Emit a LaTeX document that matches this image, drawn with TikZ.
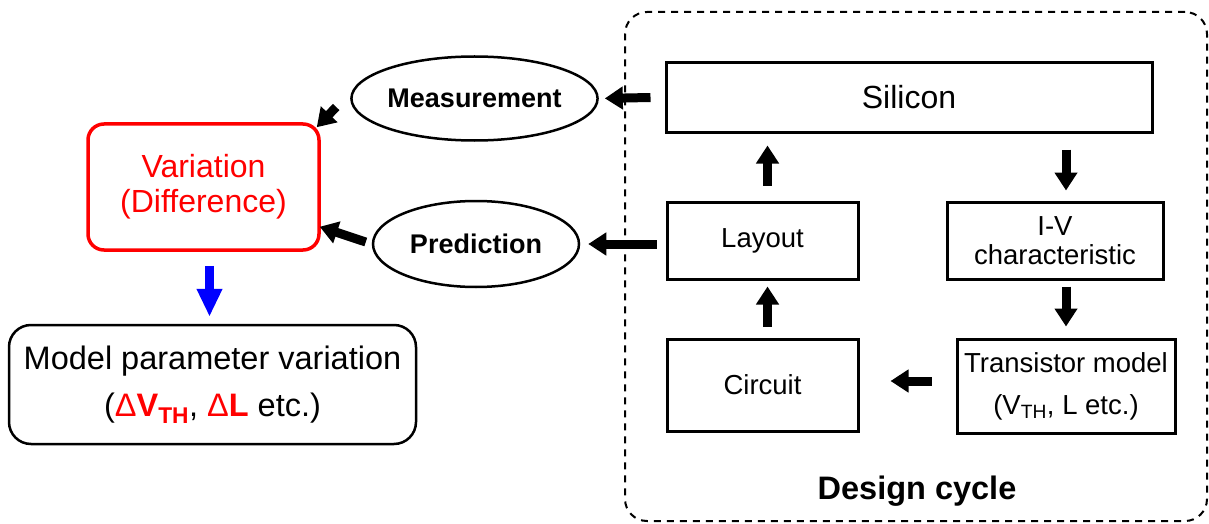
\documentclass[tikz,border=0pt]{standalone}
\usepackage{fontspec}
\setmainfont{Liberation Sans}
\usetikzlibrary{arrows.meta,shapes.geometric,calc}
\definecolor{vred}{RGB}{255,0,0}
\definecolor{vblue}{RGB}{0,0,255}
\begin{document}
\begin{tikzpicture}[x=1pt,y=-1pt,
  box/.style={draw, line width=3pt, rectangle, inner sep=0pt, align=center},
  oval/.style={draw, line width=2.5pt, ellipse, inner sep=0pt, font=\fontsize{27}{30}\selectfont\bfseries},
  blk/.style={line width=9pt, -{Triangle[length=18pt,width=22pt]}},
  blu/.style={vblue, line width=9pt, -{Triangle[length=28pt,width=24pt]}},
  small/.style={font=\fontsize{27.5}{30}\selectfont}
]
\useasboundingbox (0,0) rectangle (1209,524);
% design cycle frame
\node[draw, line width=2pt, dash pattern=on 7pt off 6pt, rounded corners=22pt,
      minimum width=582pt, minimum height=509pt, inner sep=0pt] (cyc) at (916,266.5) {};
\node[font=\fontsize{32.5}{35}\selectfont\bfseries] (cyclab) at (917,491) {Design cycle};
% boxes of the cycle
\node[box, minimum width=486pt, minimum height=69pt, font=\fontsize{32}{35}\selectfont] (sil) at (909,97.5) {Silicon};
\node[box, small, minimum width=191pt, minimum height=77pt] (lay) at (762.5,240.5) {Layout};
\node[box, minimum width=216pt, minimum height=77pt, font=\fontsize{27.5}{29}\selectfont] (iv) at (1055,240.5) {I-V\\characteristic};
\node[box, small, minimum width=191pt, minimum height=92pt] (cir) at (762.5,385) {Circuit};
\node[box, minimum width=218pt, minimum height=94pt, font=\fontsize{27.5}{42}\selectfont] (tm) at (1066,386)
  {Transistor model\\(V\textsubscript{TH}, L etc.)};
% ellipses
\node[oval, minimum width=205pt, minimum height=84pt] (meas) at (474.5,98.5) {Measurement};
\node[oval, minimum width=206pt, minimum height=86pt] (pred) at (476,244) {Prediction};
% variation
\node[draw=vred, text=vred, line width=3.5pt, rounded corners=16pt, minimum width=231pt, minimum height=126pt,
      inner sep=0pt, align=center, font=\fontsize{32}{35}\selectfont] (var) at (203.5,187) {Variation\\(Difference)};
% model parameter variation
\node[draw, line width=2.5pt, rounded corners=22pt, minimum width=407pt, minimum height=119pt,
      inner sep=0pt, align=center, font=\fontsize{32.5}{47}\selectfont] (mod) at (212.5,384.5)
  {Model parameter variation\\(\textcolor{vred}{Δ\textbf{V\textsubscript{TH}}}, \textcolor{vred}{Δ\textbf{L}} etc.)};
% arrows
\draw[blk, shorten >=6pt] ([xshift=-14pt]sil.west) -- (meas.east);
\draw[blk, shorten >=8pt] ([xshift=-9pt]lay.west |- pred.east) -- (pred.east);
\draw[blk, shorten <=15pt, shorten >=12pt] ([xshift=5pt]lay.north) -- ([xshift=5pt]lay.north |- sil.south);
\draw[blk, shorten <=11pt, shorten >=6pt] ([xshift=5pt]cir.north) -- ([xshift=5pt]cir.north |- lay.south);
\draw[blk, shorten <=16pt, shorten >=10pt] ([xshift=11pt]iv.north |- sil.south) -- ([xshift=11pt]iv.north);
\draw[blk, shorten <=6pt, shorten >=11pt] (tm.north |- iv.south) -- (tm.north);
\draw[blk, shorten <=24pt, shorten >=31pt] ([yshift=5pt]tm.west) -- ([yshift=5pt]tm.west -| cir.east);
\draw[blk] ([shift={(-14pt,-8.5pt)}]meas.west) -- ([shift={(-4pt,-5pt)}]var.north east);
\draw[blk] ([shift={(-6pt,2pt)}]pred.west) -- ([shift={(-1pt,25pt)}]var.south east);
\draw[blu, shorten <=14pt, shorten >=7pt] ([xshift=6pt]var.south) -- ([xshift=6pt]var.south |- mod.north);
\end{tikzpicture}
\end{document}
